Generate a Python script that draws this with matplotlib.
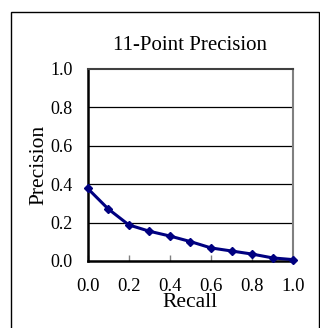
import numpy as np
import matplotlib.pyplot as plt
from matplotlib.patches import Rectangle

plt.rcParams['font.family'] = ['Liberation Serif', 'DejaVu Serif']

recall = [0.0, 0.1, 0.2, 0.3, 0.4, 0.5, 0.6, 0.7, 0.8, 0.9, 1.0]
precision = [0.378, 0.271, 0.188, 0.155, 0.130, 0.101, 0.068, 0.052, 0.036, 0.016, 0.007]
ticks = [0.0, 0.2, 0.4, 0.6, 0.8, 1.0]

fig = plt.figure(figsize=(3.2, 3.28), dpi=100)

# outer frame of the chart area (runs off the bottom)
fig.patches.append(Rectangle((11 / 320, -0.05), 308 / 320, 1.05 - 12 / 328,
                             transform=fig.transFigure, fill=False,
                             edgecolor='black', linewidth=1.0))

ax = fig.add_axes([0.274, 0.2043, 0.6425, 0.5854])
ax.plot(recall, precision, color='#000080', linewidth=2.2, marker='D',
        markersize=4.5, clip_on=False, zorder=3)

ax.set_xlim(0, 1)
ax.set_ylim(0, 1)
ax.set_xticks(ticks)
ax.set_yticks(ticks)
ax.set_xticklabels(['%.1f' % t for t in ticks])
ax.set_yticklabels(['%.1f' % t for t in ticks])

for y in ticks[1:-1]:
    ax.axhline(y, color='black', linewidth=0.9, zorder=1)

ax.spines['left'].set_linewidth(1.8)
ax.spines['bottom'].set_linewidth(1.8)
ax.spines['top'].set_color('#404040')
ax.spines['right'].set_color('#808080')
ax.spines['top'].set_linewidth(1.5)
ax.spines['right'].set_linewidth(1.5)

ax.tick_params(axis='x', direction='in', length=4, width=1, color='#808080',
               labelsize=13.5, pad=12)
ax.tick_params(axis='y', length=0, labelsize=13, pad=11)

ax.set_xlabel('Recall', fontsize=15.5, labelpad=-1)
ax.set_ylabel('Precision', fontsize=15.5, labelpad=1)
ax.set_title('11-Point Precision', fontsize=15, pad=14)

fig.savefig('out.png', dpi=100)
